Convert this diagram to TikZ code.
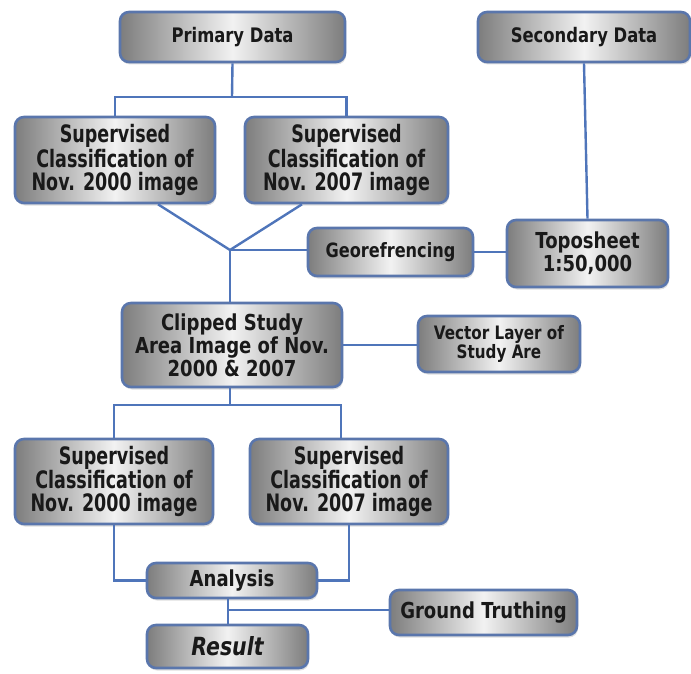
\documentclass[tikz,border=0pt]{standalone}
\usepackage{fontspec}
\setmainfont{DejaVu Sans}
\newfontfamily\midface{DejaVu Sans}[FakeStretch=0.82]
\newfontfamily\narrowface{DejaVu Sans}[FakeStretch=0.73]
\usetikzlibrary{shadows}
\definecolor{linkblue}{RGB}{79,117,186}
\definecolor{rimblue}{RGB}{90,118,172}
\definecolor{sidegray}{RGB}{125,125,125}
\definecolor{midgray}{RGB}{242,242,242}
\begin{document}
\begin{tikzpicture}[x=1pt,y=-1pt,
  box/.style={draw=rimblue, line width=2.6pt, rounded corners=9pt,
    left color=sidegray, right color=sidegray, middle color=midgray,
    drop shadow={opacity=.25, shadow xshift=1pt, shadow yshift=-2.5pt},
    align=center, inner sep=0pt, text=black!90},
  link/.style={draw=linkblue, line width=2.4pt}]
\useasboundingbox (0,0) rectangle (691,674);

% Top row
\node[box, minimum width=225pt, minimum height=50pt, font=\midface\bfseries\fontsize{20}{22}\selectfont] (primary) at (232.5,37) {Primary Data};
\node[box, minimum width=212pt, minimum height=50pt, font=\midface\bfseries\fontsize{20}{22}\selectfont] (secondary) at (584,37) {Secondary Data};

% First classification
\node[box, minimum width=200pt, minimum height=86pt, font=\narrowface\bfseries\fontsize{24}{23}\selectfont] (sup00a) at (115,160) {Supervised\\Classification of\\Nov. 2000 image};
\node[box, minimum width=203pt, minimum height=86pt, font=\narrowface\bfseries\fontsize{24}{23}\selectfont] (sup07a) at (346.5,160) {Supervised\\Classification of\\Nov. 2007 image};

% Georeferencing
\node[box, minimum width=165pt, minimum height=48pt, font=\midface\bfseries\fontsize{19.7}{22}\selectfont] (georef) at (390.5,252) {Georefrencing};
\node[box, minimum width=161pt, minimum height=67pt, font=\midface\bfseries\fontsize{22}{23}\selectfont] (topo) at (587.5,253.5) {Toposheet\\1:50,000};

% Clipping
\node[box, minimum width=220pt, minimum height=84pt, font=\midface\bfseries\fontsize{22}{23}\selectfont] (clipped) at (232,345) {Clipped Study\\Area Image of Nov.\\2000 \& 2007};
\node[box, minimum width=162pt, minimum height=56pt, font=\midface\bfseries\fontsize{18.5}{19}\selectfont] (vector) at (499,344) {Vector Layer of\\Study Are};

% Second classification
\node[box, minimum width=198pt, minimum height=85pt, font=\narrowface\bfseries\fontsize{24}{23}\selectfont] (sup00b) at (114,481.5) {Supervised\\Classification of\\Nov. 2000 image};
\node[box, minimum width=198pt, minimum height=85pt, font=\narrowface\bfseries\fontsize{24}{23}\selectfont] (sup07b) at (349,481.5) {Supervised\\Classification of\\Nov. 2007 image};

% Analysis and result
\node[box, minimum width=170pt, minimum height=35pt, font=\midface\bfseries\fontsize{22}{24}\selectfont] (analysis) at (232,580.5) {Analysis};
\node[box, minimum width=187pt, minimum height=45pt, font=\midface\bfseries\fontsize{22}{24}\selectfont] (ground) at (483.5,612.5) {Ground Truthing};
\node[box, minimum width=161pt, minimum height=43pt, font=\midface\bfseries\itshape\fontsize{25}{27}\selectfont] (result) at (227.5,646.5) {Result};

% Connectors
\coordinate (pbr) at (232,97);
\coordinate (merge) at (230,250);
\coordinate (cbr) at (230,405);
\coordinate (gbr) at (228,610);
\draw[link] (primary.south) -- (pbr);
\draw[link] (sup00a.north) |- (pbr) -| (sup07a.north);
\draw[link] ([xshift=43pt]sup00a.south) -- (merge) -- ([xshift=-44.5pt]sup07a.south);
\draw[link] (merge) -- (clipped.north -| merge);
\draw[link] (merge) -- (georef.west |- merge);
\draw[link] (georef.east) -- (topo.west |- georef.east);
\draw[link] (secondary.south) -- (topo.north);
\draw[link] (clipped.east) -- (vector.west |- clipped.east);
\draw[link] (clipped.south -| cbr) -- (cbr);
\draw[link] (sup00b.north) |- (cbr) -| ([xshift=-8pt]sup07b.north);
\draw[link] (sup00b.south) |- (analysis.west);
\draw[link] (sup07b.south) |- (analysis.east);
\draw[link] (analysis.south -| gbr) -- (result.north -| gbr);
\draw[link] (gbr) -- (ground.west |- gbr);
\end{tikzpicture}
\end{document}
